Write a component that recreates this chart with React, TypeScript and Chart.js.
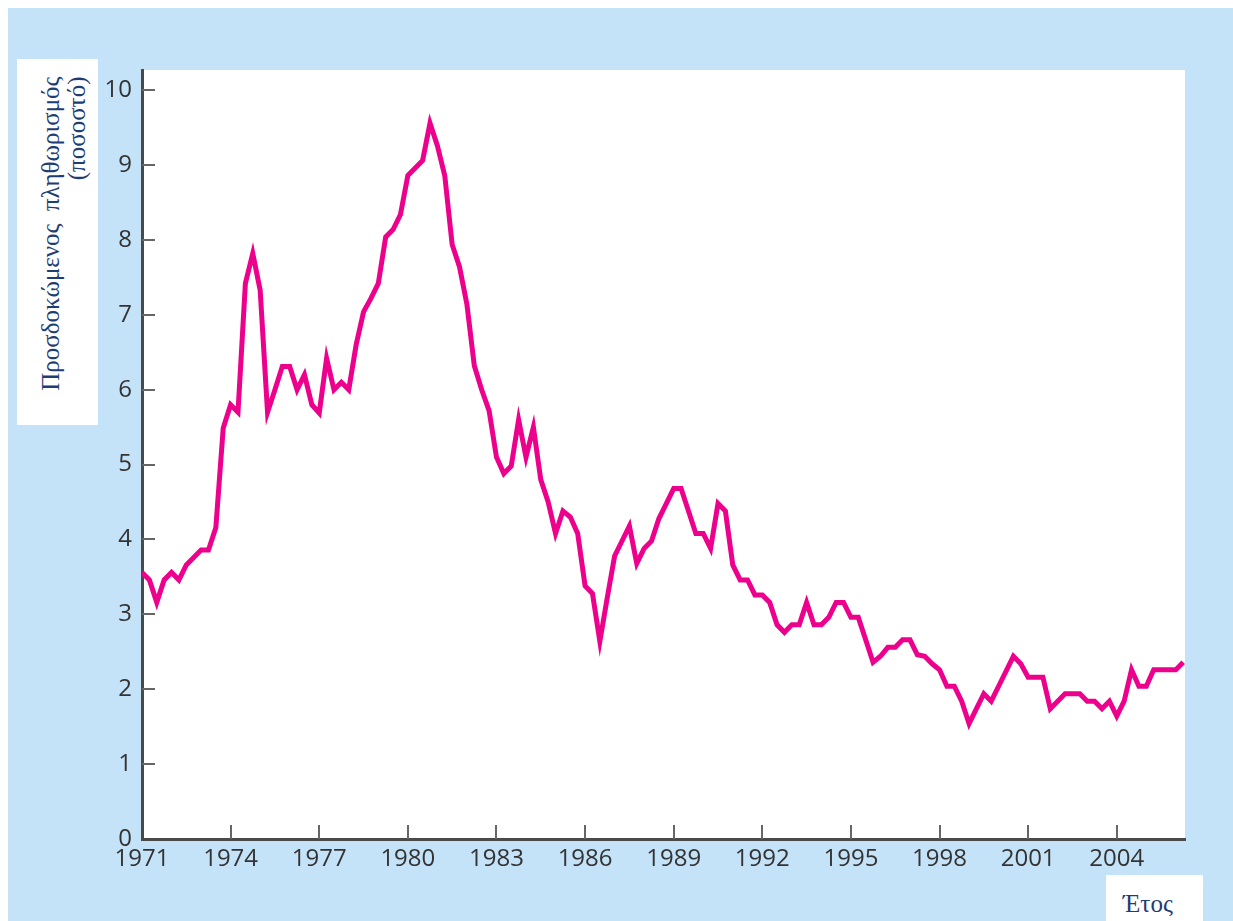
import React, { useEffect, useRef } from 'react';
import { Chart, registerables } from 'chart.js';

Chart.register(...registerables);

// Quarterly observations, first quarter of 1971 onwards
const START_YEAR = 1971;
const PERIODS_PER_YEAR = 4;

const inflation = [
  3.56, 3.46, 3.16, 3.46, // 1971
  3.56, 3.46, 3.66, 3.76, // 1972
  3.86, 3.86, 4.16, 5.49, // 1973
  5.8, 5.7, 7.42, 7.82, // 1974
  7.33, 5.7, 6.0, 6.31, // 1975
  6.31, 6.0, 6.2, 5.8, // 1976
  5.69, 6.42, 6.0, 6.1, // 1977
  6.0, 6.6, 7.04, 7.22, // 1978
  7.42, 8.04, 8.14, 8.34, // 1979
  8.86, 8.96, 9.06, 9.56, // 1980
  9.26, 8.86, 7.94, 7.64, // 1981
  7.14, 6.32, 6.0, 5.72, // 1982
  5.1, 4.88, 4.98, 5.6, // 1983
  5.1, 5.5, 4.8, 4.5, // 1984
  4.08, 4.38, 4.3, 4.08, // 1985
  3.38, 3.28, 2.64, 3.22, // 1986
  3.78, 3.98, 4.18, 3.68, // 1987
  3.88, 3.98, 4.28, 4.48, // 1988
  4.68, 4.68, 4.38, 4.08, // 1989
  4.08, 3.88, 4.48, 4.38, // 1990
  3.66, 3.46, 3.46, 3.26, // 1991
  3.26, 3.16, 2.86, 2.76, // 1992
  2.86, 2.86, 3.16, 2.86, // 1993
  2.86, 2.96, 3.16, 3.16, // 1994
  2.96, 2.96, 2.66, 2.36, // 1995
  2.44, 2.56, 2.56, 2.66, // 1996
  2.66, 2.46, 2.44, 2.34, // 1997
  2.26, 2.04, 2.04, 1.84, // 1998
  1.54, 1.74, 1.94, 1.84, // 1999
  2.04, 2.24, 2.44, 2.34, // 2000
  2.16, 2.16, 2.16, 1.74, // 2001
  1.84, 1.94, 1.94, 1.94, // 2002
  1.84, 1.84, 1.74, 1.84, // 2003
  1.64, 1.84, 2.26, 2.04, // 2004
  2.04, 2.26, 2.26, 2.26, // 2005
  2.26, 2.36, // 2006
];

const xTickYears = [1971, 1974, 1977, 1980, 1983, 1986, 1989, 1992, 1995, 1998, 2001, 2004];
const yTickValues = [0, 1, 2, 3, 4, 5, 6, 7, 8, 9, 10];

const X_MIN = 1971;
const X_MAX = 2006.31;
const Y_MIN = 0;
const Y_MAX = 10.27;

const yTitleLines = ['Προσδοκώμενος  πληθωρισμός', '(ποσοστό)'];
const xTitle = 'Έτος';

const LINE_COLOR = '#ec008c';
const BG_COLOR = '#c4e2f8';
const TITLE_COLOR = '#1e3d73';
const TICK_FONT = "'Open Sans', 'DejaVu Sans', sans-serif";
const SERIF_FONT = "'Liberation Serif', 'Times New Roman', serif";

const points = inflation.map((v, i) => ({ x: START_YEAR + i / PERIODS_PER_YEAR, y: v }));

const plotBackground = {
  id: 'plotBackground',
  beforeDraw(chart: any) {
    const { ctx, chartArea } = chart;
    ctx.save();
    ctx.fillStyle = '#ffffff';
    ctx.fillRect(chartArea.left, chartArea.top, chartArea.right - chartArea.left, chartArea.bottom - chartArea.top);
    ctx.restore();
  },
};

const inwardTicks = {
  id: 'inwardTicks',
  beforeDatasetsDraw(chart: any) {
    const { ctx, chartArea, scales } = chart;
    ctx.save();
    ctx.strokeStyle = '#666666';
    ctx.lineWidth = 2;
    scales.y.ticks.forEach((t: any) => {
      if (t.value === Y_MIN) return;
      const y = Math.round(scales.y.getPixelForValue(t.value));
      ctx.beginPath();
      ctx.moveTo(chartArea.left, y);
      ctx.lineTo(chartArea.left + 13, y);
      ctx.stroke();
    });
    scales.x.ticks.forEach((t: any) => {
      if (t.value === X_MIN) return;
      const x = Math.round(scales.x.getPixelForValue(t.value));
      ctx.beginPath();
      ctx.moveTo(x, chartArea.bottom);
      ctx.lineTo(x, chartArea.bottom - 14);
      ctx.stroke();
    });
    ctx.restore();
  },
};

export default function App() {
  const ref = useRef<HTMLCanvasElement>(null);

  useEffect(() => {
    const chart = new Chart(ref.current as HTMLCanvasElement, {
      type: 'line',
      data: {
        datasets: [
          {
            data: points,
            borderColor: LINE_COLOR,
            borderWidth: 5,
            pointRadius: 0,
            tension: 0,
            fill: false,
          },
        ],
      },
      options: {
        responsive: false,
        animation: false,
        layout: { padding: { top: 62, right: 48, left: 0, bottom: 0 } },
        plugins: {
          legend: { display: false },
          tooltip: { enabled: false },
          title: { display: false },
        },
        scales: {
          x: {
            type: 'linear',
            min: X_MIN,
            max: X_MAX,
            afterBuildTicks: (scale: any) => {
              scale.ticks = xTickYears.map((v) => ({ value: v }));
            },
            afterFit: (scale: any) => {
              scale.height = 82;
            },
            grid: { display: false, drawTicks: false },
            border: { display: true, color: '#4a4a4a', width: 3 },
            ticks: {
              autoSkip: false,
              maxRotation: 0,
              padding: 6,
              color: '#333333',
              font: { family: TICK_FONT, size: 24 },
              callback: (v: any) => String(v),
            },
          },
          y: {
            type: 'linear',
            min: Y_MIN,
            max: Y_MAX,
            afterBuildTicks: (scale: any) => {
              scale.ticks = yTickValues.map((v) => ({ value: v }));
            },
            afterFit: (scale: any) => {
              scale.width = 134;
            },
            grid: { display: false, drawTicks: false },
            border: { display: true, color: '#4a4a4a', width: 3 },
            ticks: {
              autoSkip: false,
              padding: 10,
              color: '#333333',
              font: { family: TICK_FONT, size: 24 },
              callback: (v: any) => String(v),
            },
          },
        },
      },
      plugins: [plotBackground, inwardTicks],
    } as any);
    return () => chart.destroy();
  }, []);

  return (
    <div
      style={{
        position: 'fixed',
        left: 8,
        top: 8,
        width: 1225,
        height: 913,
        background: BG_COLOR,
        overflow: 'hidden',
      }}
    >
      <canvas
        ref={ref}
        width={1225}
        height={913}
        style={{ position: 'absolute', left: 0, top: 0, width: 1225, height: 913, display: 'block' }}
      />
      <div
        style={{
          position: 'absolute',
          left: 9,
          top: 51,
          width: 81,
          height: 366,
          background: '#ffffff',
          overflow: 'hidden',
        }}
      >
        <div
          style={{
            position: 'absolute',
            left: (81 - 366) / 2,
            top: (366 - 81) / 2,
            width: 366,
            height: 81,
            transform: 'rotate(-90deg)',
            textAlign: 'right',
            fontFamily: SERIF_FONT,
            fontSize: 25,
            lineHeight: '26px',
            color: TITLE_COLOR,
            paddingTop: 20,
            paddingRight: 17,
            boxSizing: 'border-box',
            whiteSpace: 'pre',
          }}
        >
          {yTitleLines.map((l) => (
            <div key={l}>{l}</div>
          ))}
        </div>
      </div>
      <div
        style={{
          position: 'absolute',
          left: 1098,
          top: 867,
          width: 97,
          height: 60,
          background: '#ffffff',
        }}
      >
        <span
          style={{
            position: 'absolute',
            left: 17,
            top: 16,
            fontFamily: SERIF_FONT,
            fontSize: 25,
            lineHeight: '25px',
            color: TITLE_COLOR,
            whiteSpace: 'nowrap',
          }}
        >
          {xTitle}
        </span>
      </div>
    </div>
  );
}
